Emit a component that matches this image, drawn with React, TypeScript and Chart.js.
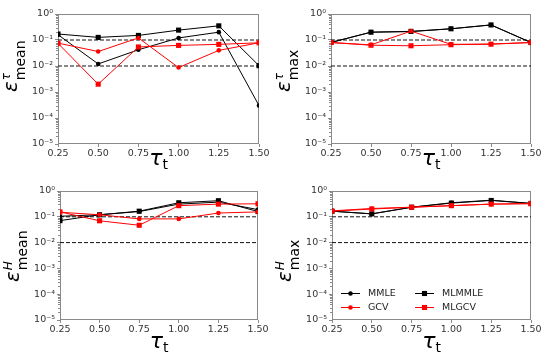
import React, { useEffect, useRef } from 'react';
import { Chart, registerables } from 'chart.js';

Chart.register(...registerables);

// ---------- data ----------
const TAU_T = [0.25, 0.5, 0.75, 1.0, 1.25, 1.5];
const X_TICKS = [0.25, 0.5, 0.75, 1.0, 1.25, 1.5];
const Y_TICKS = [1e-5, 1e-4, 1e-3, 1e-2, 1e-1, 1];
const Y_TICK_LABELS = ['10⁻⁵', '10⁻⁴', '10⁻³', '10⁻²', '10⁻¹', '10⁰'];
const REF_LEVELS = [0.1, 0.01];
const METHODS = ['MMLE', 'GCV', 'MLMMLE', 'MLGCV'];

// epsilon^tau_mean
const MMLE_TAU_MEAN = [0.16, 0.012, 0.042, 0.12, 0.2, 0.0003];
const GCV_TAU_MEAN = [0.076, 0.036, 0.12, 0.0087, 0.04, 0.078];
const MLMMLE_TAU_MEAN = [0.17, 0.126, 0.15, 0.24, 0.35, 0.0103];
const MLGCV_TAU_MEAN = [0.074, 0.002, 0.054, 0.062, 0.068, 0.078];

// epsilon^tau_max
const MMLE_TAU_MAX = [0.08, 0.2, 0.21, 0.27, 0.38, 0.08];
const GCV_TAU_MAX = [0.08, 0.065, 0.22, 0.068, 0.07, 0.08];
const MLMMLE_TAU_MAX = [0.081, 0.2, 0.215, 0.27, 0.38, 0.08];
const MLGCV_TAU_MAX = [0.08, 0.063, 0.06, 0.066, 0.069, 0.08];

// epsilon^H_mean
const MMLE_H_MEAN = [0.105, 0.12, 0.16, 0.31, 0.37, 0.19];
const GCV_H_MEAN = [0.15, 0.12, 0.083, 0.083, 0.14, 0.155];
const MLMMLE_H_MEAN = [0.071, 0.12, 0.165, 0.35, 0.42, 0.16];
const MLGCV_H_MEAN = [0.155, 0.07, 0.047, 0.27, 0.31, 0.32];

// epsilon^H_max
const MMLE_H_MAX = [0.165, 0.13, 0.235, 0.35, 0.44, 0.33];
const GCV_H_MAX = [0.17, 0.21, 0.235, 0.27, 0.31, 0.33];
const MLMMLE_H_MAX = [0.165, 0.13, 0.235, 0.34, 0.43, 0.33];
const MLGCV_H_MAX = [0.165, 0.2, 0.235, 0.27, 0.31, 0.32];

// ---------- styles ----------
const FONT = "'DejaVu Sans', sans-serif";
const SPINE = '#8a8a8a';
const TICK_COLOR = '#333333';
const BLACK = '#000000';
const RED = '#ff0000';
const STYLES = [
  { color: BLACK, shape: 'circle', radius: 2.3 },
  { color: RED, shape: 'circle', radius: 2.3 },
  { color: BLACK, shape: 'rect', radius: 3.6 },
  { color: RED, shape: 'rect', radius: 3.6 },
];

type PanelDef = {
  left: number; top: number; w: number; h: number;
  area: { left: number; top: number; right: number; bottom: number };
  sup: string; sub: string; titleY: number; xTitleY: number;
  series: number[][]; legend: boolean;
};

const PANELS: PanelDef[] = [
  { left: 0, top: 0, w: 275, h: 178, area: { left: 58, top: 14, right: 259, bottom: 144 },
    sup: 'τ', sub: 'mean', titleY: 92, xTitleY: 165,
    series: [MMLE_TAU_MEAN, GCV_TAU_MEAN, MLMMLE_TAU_MEAN, MLGCV_TAU_MEAN], legend: false },
  { left: 275, top: 0, w: 275, h: 178, area: { left: 56, top: 14, right: 256, bottom: 144 },
    sup: 'τ', sub: 'max', titleY: 92, xTitleY: 165,
    series: [MMLE_TAU_MAX, GCV_TAU_MAX, MLMMLE_TAU_MAX, MLGCV_TAU_MAX], legend: false },
  { left: 0, top: 178, w: 275, h: 177, area: { left: 60, top: 13, right: 258, bottom: 142 },
    sup: 'H', sub: 'mean', titleY: 104, xTitleY: 170,
    series: [MMLE_H_MEAN, GCV_H_MEAN, MLMMLE_H_MEAN, MLGCV_H_MEAN], legend: false },
  { left: 275, top: 178, w: 275, h: 177, area: { left: 57, top: 13, right: 256, bottom: 142 },
    sup: 'H', sub: 'max', titleY: 104, xTitleY: 170,
    series: [MMLE_H_MAX, GCV_H_MAX, MLMMLE_H_MAX, MLGCV_H_MAX], legend: true },
];

function drawMarker(ctx: CanvasRenderingContext2D, shape: string, r: number, x: number, y: number, color: string) {
  ctx.fillStyle = color;
  ctx.beginPath();
  if (shape === 'circle') {
    ctx.arc(x, y, r, 0, Math.PI * 2);
  } else {
    const s = r * Math.SQRT1_2;
    ctx.rect(x - s, y - s, 2 * s, 2 * s);
  }
  ctx.fill();
}

function makeDecor(p: PanelDef) {
  return {
    id: 'decor',
    beforeDatasetsDraw(chart: any) {
      const { ctx, chartArea: a } = chart;
      ctx.save();
      ctx.strokeStyle = SPINE;
      ctx.lineWidth = 1;
      ctx.strokeRect(a.left + 0.5, a.top + 0.5, a.right - a.left - 1, a.bottom - a.top - 1);
      const ys = chart.scales.y;
      for (let e = -5; e < 0; e++) {
        for (let k = 2; k < 10; k++) {
          const y = Math.round(ys.getPixelForValue(k * Math.pow(10, e))) + 0.5;
          ctx.beginPath();
          ctx.moveTo(a.left, y);
          ctx.lineTo(a.left - 2, y);
          ctx.stroke();
        }
      }
      ctx.restore();
    },
    afterDraw(chart: any) {
      const { ctx, chartArea: a } = chart;
      ctx.save();
      ctx.fillStyle = '#000';
      ctx.textBaseline = 'alphabetic';
      ctx.textAlign = 'left';
      // y title
      const mainFont = `italic 20px ${FONT}`;
      const supFont = `italic 12px ${FONT}`;
      const subFont = `14px ${FONT}`;
      ctx.translate(a.left - 41, p.titleY);
      ctx.rotate(-Math.PI / 2);
      ctx.font = mainFont;
      ctx.fillText('ε', 0, 0);
      const wm = ctx.measureText('ε').width + 1;
      ctx.font = supFont;
      ctx.fillText(p.sup, wm, -7);
      ctx.font = subFont;
      ctx.fillText(p.sub, wm, 8);
      ctx.restore();

      // x title
      ctx.save();
      ctx.fillStyle = '#000';
      ctx.font = `italic 22px ${FONT}`;
      const wt = ctx.measureText('τ').width;
      ctx.font = `14px ${FONT}`;
      const ws = ctx.measureText('t').width;
      const cx = (a.left + a.right) / 2;
      const x0 = cx - (wt + ws) / 2;
      ctx.font = `italic 22px ${FONT}`;
      ctx.fillText('τ', x0, p.xTitleY);
      ctx.font = `14px ${FONT}`;
      ctx.fillText('t', x0 + wt, p.xTitleY + 4);
      ctx.restore();

      if (p.legend) {
        ctx.save();
        const rows = [115, 129];
        const cols = [66, 140];
        const order = [[0, 2], [1, 3]];
        ctx.font = `9.5px ${FONT}`;
        ctx.textBaseline = 'middle';
        for (let r = 0; r < 2; r++) {
          for (let c = 0; c < 2; c++) {
            const idx = order[r][c];
            const st = STYLES[idx];
            const x = cols[c];
            const y = rows[r];
            ctx.strokeStyle = st.color;
            ctx.lineWidth = 1;
            ctx.beginPath();
            ctx.moveTo(x, y + 0.5);
            ctx.lineTo(x + 19, y + 0.5);
            ctx.stroke();
            drawMarker(ctx, st.shape, st.radius, x + 9.5, y + 0.5, st.color);
            ctx.fillStyle = '#222';
            ctx.fillText(METHODS[idx], x + 27, y + 1);
          }
        }
        ctx.restore();
      }
    },
  };
}

function Panel({ p }: { p: PanelDef }) {
  const ref = useRef<HTMLCanvasElement | null>(null);
  useEffect(() => {
    if (!ref.current) return;
    const drawOrder = [3, 1, 2, 0];
    const datasets: any[] = drawOrder.map((i) => ({
      label: METHODS[i],
      data: TAU_T.map((x, j) => ({ x, y: p.series[i][j] })),
      borderColor: STYLES[i].color,
      backgroundColor: STYLES[i].color,
      borderWidth: 1,
      pointStyle: STYLES[i].shape,
      pointRadius: STYLES[i].radius,
      pointBorderWidth: 0,
      pointHoverRadius: STYLES[i].radius,
      tension: 0,
    }));
    REF_LEVELS.forEach((lv) => {
      datasets.push({
        label: 'ref',
        data: [{ x: X_TICKS[0], y: lv }, { x: X_TICKS[X_TICKS.length - 1], y: lv }],
        borderColor: '#111',
        borderWidth: 1,
        borderDash: [4, 2],
        pointRadius: 0,
      });
    });
    const tickFont = { family: FONT, size: 9.5 };
    const chart = new Chart(ref.current, {
      type: 'line',
      data: { datasets },
      plugins: [makeDecor(p)],
      options: {
        responsive: false,
        animation: false,
        devicePixelRatio: 1,
        layout: { padding: { left: 0, top: p.area.top, right: p.w - p.area.right, bottom: 0 } },
        plugins: { legend: { display: false }, tooltip: { enabled: false } },
        scales: {
          x: {
            type: 'linear',
            min: X_TICKS[0],
            max: X_TICKS[X_TICKS.length - 1],
            afterBuildTicks: (s: any) => { s.ticks = X_TICKS.map((v) => ({ value: v })); },
            afterFit: (s: any) => { s.height = p.h - p.area.bottom; },
            ticks: {
              autoSkip: false, maxRotation: 0, padding: 1,
              font: tickFont, color: TICK_COLOR,
              callback: (v: any) => Number(v).toFixed(2),
            },
            grid: { drawOnChartArea: false, drawTicks: true, tickLength: 3, color: SPINE },
            border: { display: false },
          },
          y: {
            type: 'logarithmic',
            min: Y_TICKS[0],
            max: Y_TICKS[Y_TICKS.length - 1],
            afterBuildTicks: (s: any) => { s.ticks = Y_TICKS.map((v) => ({ value: v })); },
            afterFit: (s: any) => { s.width = p.area.left; },
            ticks: {
              autoSkip: false, padding: 2,
              font: tickFont, color: TICK_COLOR,
              callback: (v: any) => {
                const i = Y_TICKS.findIndex((t) => Math.abs(Math.log10(t) - Math.log10(Number(v))) < 1e-6);
                return i >= 0 ? Y_TICK_LABELS[i] : '';
              },
            },
            grid: { drawOnChartArea: false, drawTicks: true, tickLength: 3, color: SPINE },
            border: { display: false },
          },
        },
      } as any,
    });
    return () => chart.destroy();
  }, [p]);
  return (
    <canvas
      ref={ref}
      width={p.w}
      height={p.h}
      style={{ position: 'absolute', left: p.left, top: p.top, width: p.w, height: p.h }}
    />
  );
}

export default function App() {
  return (
    <div style={{ position: 'fixed', left: 0, top: 0, width: 550, height: 355, background: '#fff' }}>
      {PANELS.map((p, i) => (
        <Panel key={i} p={p} />
      ))}
    </div>
  );
}
